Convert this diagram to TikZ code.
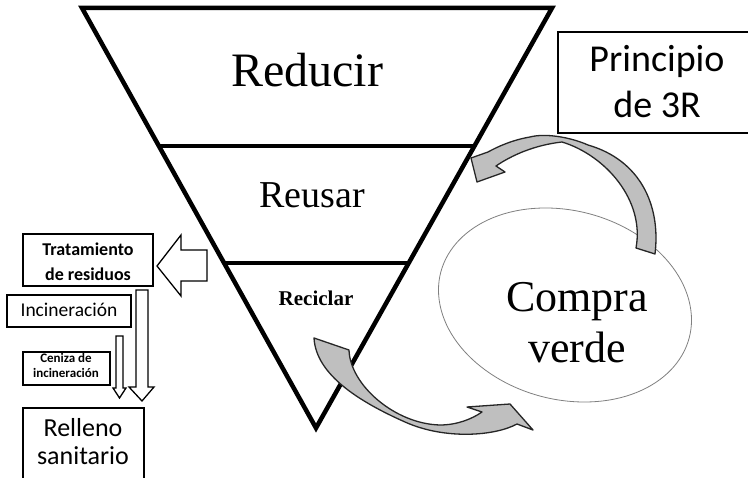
\documentclass[tikz,border=0pt]{standalone}
\usepackage{fontspec}
\setmainfont{Liberation Serif}
\newfontfamily\calfont{Carlito}
\usetikzlibrary{calc}
\begin{document}
\begin{tikzpicture}[x=1pt,y=-1pt,
  tri/.style={line width=4.5pt, line join=miter},
  bx/.style={draw, line width=1.3pt},
  blk/.style={draw, line width=1.3pt, fill=white, line join=miter},
  curv/.style={draw=black!85, fill=black!25, line width=1.3pt, line join=round},
  ell/.style={draw=black!50, line width=0.8pt},
  lbl/.style={inner sep=0pt, anchor=base, align=center}]
\useasboundingbox[fill=white] (0,0) rectangle (748,478);

% inverted triangle
\coordinate (tl) at (82,8);
\coordinate (tr) at (552,8);
\coordinate (bt) at (316,428);
\draw[tri] (tl) -- (tr) -- (bt) -- cycle;
\draw[tri] ($(tl)!0.3286!(bt)$) -- ($(tr)!0.3286!(bt)$);
\draw[tri] ($(tl)!0.607!(bt)$) -- ($(tr)!0.607!(bt)$);

\node[lbl, font=\fontsize{48}{52}\selectfont] (reducir) at (307,87) {Reducir};
\node[lbl, font=\fontsize{38}{42}\selectfont] (reusar) at (312,208) {Reusar};
\node[lbl, font=\bfseries\fontsize{21}{24}\selectfont] (reciclar) at (316,306) {Reciclar};

% Principio de 3R box (cut by right edge)
\draw[bx] (752,32) -- (558,32) -- (558,133) -- (752,133);
\node[lbl, font=\calfont\fontsize{38}{46}\selectfont] (principio) at (657,118) {Principio\\de 3R};

% ellipse
\coordinate (cv) at (565,305);
\begin{scope}[shift={(cv)}, xslant=-0.2]
  \draw[ell] (0,0) ellipse [x radius=125, y radius=97];
\end{scope}
\node[lbl, font=\fontsize{44}{51}\selectfont] (compra) at (577,363) {Compra\\verde};

% curved arrow: Compra verde -> Reusar
\draw[curv] (655,254) .. controls (661,205) and (640,160) .. (588,145)
  .. controls (570,137) and (545,133) .. (530,137)
  .. controls (512,140) and (497,147) .. (488,152)
  -- (471,158) -- (477,182) -- (505,172) -- (496,166)
  .. controls (512,155) and (535,145) .. (562,142)
  .. controls (605,155) and (645,200) .. (636,248) -- cycle;

% curved arrow: Reciclar -> Compra verde
\draw[curv] (314,338) -- (349,350)
  .. controls (350,385) and (395,424) .. (440,425)
  .. controls (457,425) and (472,419) .. (482,412)
  -- (467,407) -- (510,404) -- (533,430) -- (517,424)
  .. controls (495,436) and (445,440) .. (405,422)
  .. controls (360,402) and (316,375) .. (314,338) -- cycle;

% left side boxes
\draw[bx] (23,234) rectangle (153,286);
\node[lbl, font=\calfont\bfseries\fontsize{18}{25}\selectfont] (trat) at (88,281) {Tratamiento\\de residuos};
\draw[bx] (7,295) rectangle (131,327);
\node[lbl, font=\calfont\fontsize{19.5}{22}\selectfont] (incin) at (69,317) {Incineración};
\draw[bx] (23,352) rectangle (110,385);
\node[lbl, font=\calfont\bfseries\fontsize{13}{15}\selectfont] (ceniza) at (66,378) {Ceniza de\\incineración};
\draw[bx] (23,482) -- (23,408) -- (144,408) -- (144,482);
\node[lbl, font=\calfont\fontsize{26}{28}\selectfont] (relleno) at (83,465) {Relleno\\sanitario};

% block arrows
\draw[blk] (157,266) -- (181,235) -- (181,250) -- (207,250) -- (207,281) -- (181,281) -- (181,296) -- cycle;
\draw[blk] (136,290) -- (148,290) -- (148,387) -- (154,387) -- (142,401) -- (129,387) -- (136,387) -- cycle;
\draw[blk] (116,336) -- (123,336) -- (123,388) -- (126,388) -- (119.5,398) -- (113,388) -- (116,388) -- cycle;
\end{tikzpicture}
\end{document}
